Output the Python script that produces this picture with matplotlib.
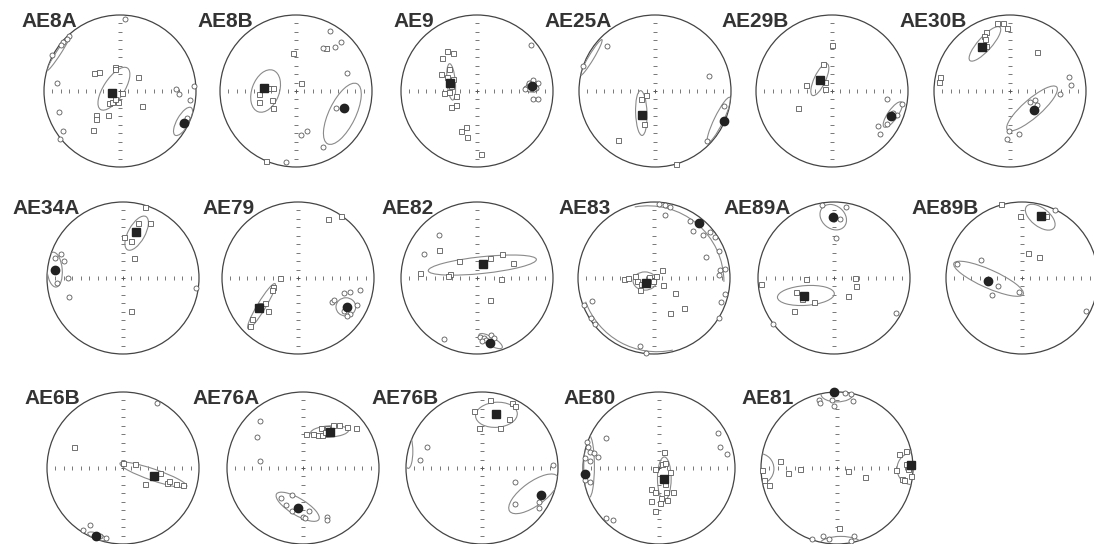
import numpy as np
import matplotlib
matplotlib.use('Agg')
import matplotlib.pyplot as plt
from matplotlib.patches import Circle, Ellipse, Arc

plt.rcParams['font.family'] = ['Liberation Sans', 'DejaVu Sans']

# site names, row by row
sites = ['AE8A', 'AE8B', 'AE9', 'AE25A', 'AE29B', 'AE30B',
         'AE34A', 'AE79', 'AE82', 'AE83', 'AE89A', 'AE89B',
         'AE6B', 'AE76A', 'AE76B', 'AE80', 'AE81']

# net centres on the page (px)
cen_x = [120, 296, 477, 655, 832, 1010,
         123, 298, 477, 654, 834, 1022,
         123, 303, 482, 659, 837]
cen_y = [91] * 6 + [278] * 6 + [468] * 5

# projected directions, unit = net radius (east, north)
# sq = component A (squares), ci = component B (circles)
ae8a_sq = [(-0.34, 0.24), (-0.28, 0.25), (-0.07, 0.31), (-0.06, 0.29), (0.24, 0.18), (0.03, -0.02),
           (-0.14, -0.16), (-0.10, -0.14), (-0.03, -0.14), (-0.07, -0.10), (0.29, -0.20),
           (-0.31, -0.31), (-0.31, -0.37), (-0.16, -0.31), (-0.36, -0.51)]
ae8a_ci = [(0.06, 0.95), (-0.67, 0.72), (-0.70, 0.68), (-0.75, 0.65), (-0.78, 0.61), (-0.89, 0.47),
           (-0.83, 0.11), (-0.80, -0.28), (-0.75, -0.53), (-0.79, -0.63), (0.74, 0.03), (0.77, -0.04),
           (0.97, 0.06), (0.92, -0.12), (0.81, -0.44), (0.88, -0.35)]
ae8b_sq = [(-0.04, 0.50), (0.07, 0.11), (-0.35, 0.04), (-0.30, 0.04), (-0.49, -0.04), (-0.49, -0.14),
           (-0.32, -0.12), (-0.30, -0.22), (0.40, 0.57), (-0.39, -0.92)]
ae8b_ci = [(0.45, 0.79), (0.36, 0.57), (0.51, 0.58), (0.59, 0.64), (0.67, 0.24), (0.52, -0.22),
           (0.07, -0.58), (0.15, -0.52), (0.36, -0.74), (-0.13, -0.93)]
ae9_sq = [(-0.39, 0.53), (-0.32, 0.50), (-0.46, 0.44), (-0.37, 0.29), (-0.47, 0.22), (-0.39, 0.18),
          (-0.32, 0.16), (-0.34, 0.07), (-0.44, -0.02), (-0.37, -0.01), (-0.28, -0.07), (-0.27, -0.19),
          (-0.34, -0.21), (-0.21, -0.53), (-0.15, -0.48), (-0.13, -0.60), (0.05, -0.83)]
ae9_ci = [(0.71, 0.60), (0.65, 0.04), (0.69, 0.11), (0.74, 0.15), (0.80, 0.11), (0.78, 0.04),
          (0.75, 0.02), (0.68, 0.02), (0.63, 0.03), (0.74, -0.10), (0.80, -0.10)]
ae25a_sq = [(-0.12, -0.05), (-0.18, -0.10), (-0.14, -0.43), (-0.49, -0.64), (0.28, -0.96)]
ae25a_ci = [(-0.63, 0.59), (-0.95, 0.33), (0.71, 0.20), (0.91, -0.20), (0.69, -0.66)]
ae29b_sq = [(0.0, 0.61), (-0.12, 0.36), (-0.34, 0.08), (-0.09, 0.12), (-0.09, 0.03), (-0.45, -0.22)]
ae29b_ci = [(0.72, -0.11), (0.92, -0.17), (0.60, -0.46), (0.63, -0.57), (0.73, -0.44), (0.85, -0.32),
            (0.80, -0.29)]
ae30b_sq = [(-0.17, 0.89), (-0.09, 0.90), (-0.04, 0.83), (-0.31, 0.77), (-0.34, 0.73), (-0.33, 0.68),
            (-0.32, 0.59), (0.35, 0.51), (-0.92, 0.18), (-0.94, 0.12)]
ae30b_ci = [(0.77, 0.18), (0.80, 0.08), (0.66, -0.04), (0.33, -0.12), (0.35, -0.18), (0.26, -0.14),
            (-0.01, -0.52), (-0.04, -0.63), (0.12, -0.57)]
ae34a_sq = [(0.29, 0.94), (0.20, 0.73), (0.36, 0.72), (0.01, 0.54), (0.11, 0.49), (0.15, 0.26), (0.11, -0.43)]
ae34a_ci = [(-0.82, 0.31), (-0.89, 0.26), (-0.78, 0.23), (-0.72, 0.0), (-0.87, -0.07), (-0.71, -0.25),
            (0.96, -0.13)]
ae79_sq = [(0.40, 0.78), (0.57, 0.82), (-0.24, 0.0), (-0.33, -0.12), (-0.34, -0.16), (-0.44, -0.33),
           (-0.50, -0.35), (-0.39, -0.43), (-0.61, -0.54), (-0.63, -0.63)]
ae79_ci = [(0.61, -0.20), (0.68, -0.19), (0.81, -0.16), (0.45, -0.32), (0.48, -0.29), (0.77, -0.35),
           (0.60, -0.44), (0.69, -0.48), (0.64, -0.50)]
ae82_sq = [(-0.50, 0.37), (-0.75, 0.07), (-0.24, 0.23), (-0.35, 0.05), (-0.38, 0.02), (0.17, 0.26),
           (0.33, 0.32), (0.47, 0.20), (0.32, -0.01), (0.17, -0.29)]
ae82_ci = [(-0.50, 0.56), (-0.70, 0.32), (-0.43, -0.80), (0.04, -0.78), (0.09, -0.79), (0.12, -0.81),
           (0.19, -0.75), (0.23, -0.79), (0.07, -0.83)]
ae83_sq = [(-0.39, -0.01), (-0.34, 0.0), (-0.25, 0.03), (-0.23, -0.04), (-0.17, -0.08), (-0.18, -0.16),
           (-0.06, 0.01), (-0.01, -0.04), (0.02, 0.02), (0.10, 0.11), (0.12, -0.09), (0.27, -0.20),
           (0.40, -0.39), (0.21, -0.46)]
ae83_ci = [(0.07, 0.97), (0.14, 0.96), (0.21, 0.93), (0.15, 0.83), (0.48, 0.75), (0.51, 0.62),
           (0.64, 0.56), (0.74, 0.61), (0.80, 0.54), (0.86, 0.36), (0.69, 0.27), (0.87, 0.10),
           (0.86, 0.04), (0.94, 0.12), (0.94, -0.21), (0.88, -0.32), (0.85, -0.52), (-0.81, -0.30),
           (-0.92, -0.35), (-0.83, -0.52), (-0.77, -0.61), (-0.18, -0.90), (-0.11, -0.99)]
ae89a_sq = [(-0.96, -0.08), (-0.37, -0.01), (0.27, 0.0), (0.29, -0.11), (0.19, -0.24), (-0.50, -0.18),
            (-0.42, -0.27), (-0.26, -0.32), (-0.52, -0.43)]
ae89a_ci = [(-0.16, 0.96), (0.16, 0.93), (0.08, 0.78), (0.0, 0.77), (0.02, 0.53), (0.82, -0.46),
            (-0.80, -0.61)]
ae89b_sq = [(-0.27, 0.97), (-0.02, 0.82), (0.31, 0.82), (0.08, 0.33), (0.23, 0.28)]
ae89b_ci = [(0.43, 0.89), (-0.54, 0.24), (-0.86, 0.18), (-0.31, -0.10), (-0.40, -0.23), (-0.04, -0.19),
            (0.84, -0.44)]
ae6b_sq = [(-0.65, 0.27), (0.0, 0.06), (0.16, 0.05), (0.49, -0.07), (0.29, -0.21), (0.58, -0.20),
           (0.61, -0.17), (0.70, -0.21), (0.79, -0.23)]
ae6b_ci = [(0.45, 0.86), (-0.44, -0.75), (-0.53, -0.82), (-0.30, -0.90), (-0.23, -0.92)]
ae76a_sq = [(0.04, 0.45), (0.13, 0.45), (0.20, 0.44), (0.25, 0.44), (0.24, 0.52), (0.31, 0.52),
            (0.39, 0.56), (0.47, 0.56), (0.58, 0.54), (0.70, 0.52), (0.29, 0.48)]
ae76a_ci = [(-0.56, 0.62), (-0.61, 0.41), (-0.56, 0.09), (-0.29, -0.39), (-0.15, -0.36), (-0.22, -0.49),
            (-0.15, -0.56), (0.08, -0.56), (0.0, -0.64), (0.02, -0.66), (0.31, -0.64), (0.32, -0.68)]
ae76b_sq = [(0.10, 0.89), (0.39, 0.85), (0.44, 0.81), (-0.10, 0.75), (0.35, 0.64), (0.24, 0.53), (-0.04, 0.52)]
ae76b_ci = [(-0.72, 0.27), (-0.82, 0.10), (0.93, 0.04), (0.43, -0.18), (0.44, -0.47), (0.75, -0.45),
            (0.75, -0.53)]
ae80_sq = [(0.07, 0.21), (-0.05, -0.01), (0.04, 0.05), (0.14, -0.05), (0.08, 0.07), (-0.10, -0.28),
           (-0.05, -0.31), (0.09, -0.31), (0.19, -0.31), (0.03, -0.39), (0.10, -0.42), (-0.11, -0.43),
           (0.01, -0.46), (-0.05, -0.57), (0.08, -0.21)]
ae80_ci = [(-0.95, 0.34), (-0.93, 0.27), (-0.91, 0.21), (-0.86, 0.20), (-0.97, 0.13), (-0.91, 0.09),
           (-0.80, 0.14), (-0.70, 0.39), (-0.97, -0.16), (-0.91, -0.18), (-0.70, -0.66), (-0.60, -0.69),
           (0.77, 0.46), (0.80, 0.28), (0.89, 0.19)]
ae81_sq = [(-0.75, 0.09), (-0.64, -0.07), (-0.49, -0.01), (-0.99, -0.03), (-0.96, -0.16), (-0.90, -0.22),
           (0.14, -0.04), (0.37, -0.12), (0.77, -0.02), (0.82, 0.19), (0.91, 0.22), (0.91, 0.05),
           (0.93, -0.01), (0.98, -0.10), (0.86, -0.14), (0.88, -0.16), (0.03, -0.79)]
ae81_ci = [(0.11, 0.99), (0.18, 0.98), (-0.24, 0.89), (-0.22, 0.86), (-0.07, 0.89), (-0.04, 0.82),
           (0.21, 0.88), (-0.33, -0.93), (-0.18, -0.90), (-0.10, -0.94), (0.23, -0.90), (0.18, -0.96)]

# site means (filled symbols)
mean_sq = [(-0.11, -0.02), (-0.42, 0.04), (-0.35, 0.11), (-0.17, -0.32), (-0.16, 0.15), (-0.37, 0.58),
           (0.17, 0.60), (-0.51, -0.40), (0.08, 0.18), (-0.11, -0.06), (-0.39, -0.24), (0.25, 0.82),
           (0.41, -0.10), (0.36, 0.48), (0.19, 0.71), (0.06, -0.15), (0.98, 0.04)]
mean_ci = [(0.84, -0.42), (0.63, -0.22), (0.73, 0.06), (0.91, -0.40), (0.78, -0.33), (0.31, -0.25),
           (-0.89, 0.10), (0.64, -0.38), (0.17, -0.86), (0.59, 0.72), (-0.01, 0.80), (-0.45, -0.04),
           (-0.35, -0.90), (-0.07, -0.53), (0.77, -0.36), (-0.97, -0.08), (-0.04, 1.0)]

# confidence ellipses: site index, x, y, width, height, angle
ell_site = [0, 0, 0, 1, 1, 2, 2, 3, 3, 3, 4, 4, 5, 5, 6, 6, 7, 7, 8, 8, 9,
            10, 10, 11, 11, 12, 12, 13, 13, 14, 14, 14, 15, 15, 16, 16, 16, 16]
ell_x = [-0.08, 0.83, -0.81, -0.40, 0.61, -0.34, 0.73, -0.18, -0.84, 0.84, -0.16, 0.80, -0.33, 0.29,
         0.18, -0.90, -0.48, 0.63, 0.07, 0.18, -0.12,
         -0.37, -0.01, 0.24, -0.44, 0.40, -0.34, 0.35, -0.07, 0.19, 0.68, -0.97, 0.07, -0.92,
         0.99, -1.02, 0.0, 0.05]
ell_y = [0.03, -0.40, 0.50, 0.0, -0.30, 0.12, 0.06, -0.29, 0.44, -0.38, 0.15, -0.31, 0.62, -0.23,
         0.59, 0.11, -0.37, -0.38, 0.17, -0.83, -0.04,
         -0.23, 0.80, 0.80, -0.01, -0.09, -0.90, 0.48, -0.51, 0.70, -0.34, 0.22, -0.14, 0.02,
         -0.01, -0.01, 0.97, -1.0]
ell_w = [0.65, 0.42, 0.55, 0.58, 0.88, 0.48, 0.16, 0.59, 0.55, 0.66, 0.46, 0.40, 0.59, 0.86,
         0.50, 0.46, 0.69, 0.24, 1.43, 0.35, 0.31,
         0.75, 0.38, 0.46, 1.00, 0.93, 0.26, 0.50, 0.65, 0.55, 0.78, 0.12, 0.57, 0.82,
         0.40, 0.38, 0.42, 0.55]
ell_h = [0.27, 0.16, 0.06, 0.36, 0.35, 0.11, 0.15, 0.15, 0.07, 0.12, 0.15, 0.13, 0.18, 0.24,
         0.22, 0.20, 0.11, 0.26, 0.22, 0.11, 0.24,
         0.26, 0.30, 0.24, 0.24, 0.15, 0.08, 0.15, 0.22, 0.33, 0.31, 0.45, 0.18, 0.14,
         0.42, 0.40, 0.20, 0.20]
ell_a = [57, 60, 57, 70, 64, 95, 0, 92, 59, 64, 65, 55, 48, 41,
         61, 95, 59, 90, 6, -30, 0,
         4, -40, -38, -24, -19, -20, 4, -31, 4, 36, 0, 90, 90,
         0, 0, 0, 0]

# AE83 cone wraps round the primitive: two arcs (site, x, y, diameter, theta1, theta2)
arc_site = [9, 9]
arc_x = [-0.08, 0.04]
arc_y = [-0.05, 0.03]
arc_d = [2.0, 2.0]
arc_t1 = [0, 200]
arc_t2 = [100, 282]

dirs_sq = [ae8a_sq, ae8b_sq, ae9_sq, ae25a_sq, ae29b_sq, ae30b_sq, ae34a_sq, ae79_sq, ae82_sq, ae83_sq,
           ae89a_sq, ae89b_sq, ae6b_sq, ae76a_sq, ae76b_sq, ae80_sq, ae81_sq]
dirs_ci = [ae8a_ci, ae8b_ci, ae9_ci, ae25a_ci, ae29b_ci, ae30b_ci, ae34a_ci, ae79_ci, ae82_ci, ae83_ci,
           ae89a_ci, ae89b_ci, ae6b_ci, ae76a_ci, ae76b_ci, ae80_ci, ae81_ci]

W, H = 1094, 544
R = 76.0      # net radius in px
half = 82.0   # half size of each axes box in px
lim = half / R

fig = plt.figure(figsize=(W / 100, H / 100), dpi=100)
fig.patch.set_facecolor('white')

edge = '#5a5a5a'
for i, name in enumerate(sites):
    cx, cy = cen_x[i], cen_y[i]
    ax = fig.add_axes([(cx - half) / W, (H - cy - half) / H, 2 * half / W, 2 * half / H])
    ax.set_xlim(-lim, lim)
    ax.set_ylim(-lim, lim)
    ax.set_aspect('equal')
    ax.axis('off')

    prim = Circle((0, 0), 1.0, fill=False, ec='#444444', lw=0.9, zorder=2)
    ax.add_patch(prim)

    # 10 degree ticks along the N-S and E-W diameters
    t = np.arange(-9, 10) / 9.0
    t = t[(t != 0) & (np.abs(t) < 0.99)]
    ax.plot(t, np.zeros_like(t), ls='none', marker='|', ms=2.2, mew=0.7, color='#777777', zorder=1)
    ax.plot(np.zeros_like(t), t, ls='none', marker='_', ms=2.2, mew=0.7, color='#777777', zorder=1)
    ax.plot([0], [0], ls='none', marker='+', ms=2.5, mew=0.7, color='#555555', zorder=1)

    for j in range(len(ell_site)):
        if ell_site[j] != i:
            continue
        e = Ellipse((ell_x[j], ell_y[j]), ell_w[j], ell_h[j], angle=ell_a[j],
                    fill=False, ec='#8a8a8a', lw=0.8, zorder=3)
        ax.add_patch(e)
        e.set_clip_path(prim)
    for j in range(len(arc_site)):
        if arc_site[j] != i:
            continue
        a = Arc((arc_x[j], arc_y[j]), arc_d[j], arc_d[j], theta1=arc_t1[j], theta2=arc_t2[j],
                ec='#8a8a8a', lw=0.8, zorder=3)
        ax.add_patch(a)
        a.set_clip_path(prim)

    sq = np.array(dirs_sq[i])
    ci = np.array(dirs_ci[i])
    ax.plot(sq[:, 0], sq[:, 1], ls='none', marker='s', ms=3.6, mfc='white', mec=edge, mew=0.6, zorder=4)
    ax.plot(ci[:, 0], ci[:, 1], ls='none', marker='o', ms=3.6, mfc='white', mec=edge, mew=0.6, zorder=4)
    ax.plot(*mean_sq[i], ls='none', marker='s', ms=6, color='#222222', zorder=5)
    ax.plot(*mean_ci[i], ls='none', marker='o', ms=6, color='#222222', zorder=5)

    ax.text(-43 / R, 64 / R, name, ha='right', va='baseline', fontsize=15, fontweight='bold',
            color='#333333', clip_on=False)

fig.savefig('out.png', dpi=100, facecolor='white')
